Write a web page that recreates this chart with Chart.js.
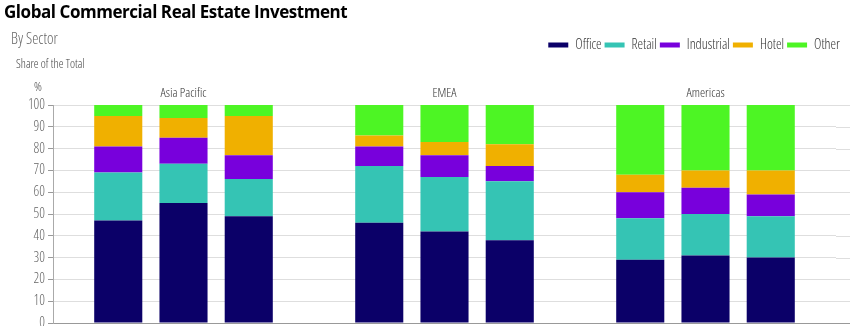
<!DOCTYPE html>
<html>
<head>
<meta charset="utf-8">
<script src="https://cdn.jsdelivr.net/npm/chart.js@4"></script>
<style>
  html, body { margin: 0; padding: 0; background: #fff; }
  #wrap { position: relative; width: 850px; height: 326px; overflow: hidden; }
  #myChart { position: absolute; left: 0; top: 0; }
  .lbl { position: absolute; white-space: nowrap; font-family: "Open Sans", sans-serif; font-stretch: 75%; font-weight: 300; }
  #title { left: 4px; top: 0px; font-stretch: 100%; font-weight: 700; font-size: 17px; color: #000; letter-spacing: -0.45px; }
  #sub { left: 11px; top: 27px; font-size: 15.5px; color: #666; }
  #unit { left: 16px; top: 55px; font-size: 12px; color: #444; }
  #pct { left: 34px; top: 77px; font-size: 13px; color: #444; }
</style>
</head>
<body>
<div id="wrap">
  <canvas id="myChart" width="850" height="326"></canvas>
  <div class="lbl" id="title">Global Commercial Real Estate Investment</div>
  <div class="lbl" id="sub">By Sector</div>
  <div class="lbl" id="unit">Share of the Total</div>
  <div class="lbl" id="pct">%</div>
</div>
<script>
"use strict";

// Slots on the x axis, blanks keep the gap between regions
const categories = ["", "AP1", "AP2", "AP3", "", "EMEA1", "EMEA2", "EMEA3", "", "AM1", "AM2", "AM3", ""];
const regions = ["Asia Pacific", "EMEA", "Americas"];
const regionCenters = [2, 6, 10];

// Share of the total per sector (%)
const office     = [null, 47, 55, 49, null, 46, 42, 38, null, 29, 31, 30, null];
const retail     = [null, 22, 18, 17, null, 26, 25, 27, null, 19, 19, 19, null];
const industrial = [null, 12, 12, 11, null,  9, 10,  7, null, 12, 12, 10, null];
const hotel      = [null, 14,  9, 18, null,  5,  6, 10, null,  8,  8, 11, null];
const other      = [null,  5,  6,  5, null, 14, 17, 18, null, 32, 30, 30, null];

const yTicks = [0, 10, 20, 30, 40, 50, 60, 70, 80, 90, 100];

// condensed light Open Sans for all the small labels
const thin = "'Open Sans', sans-serif";
const thinWeight = "300 condensed";
const gridColor = "#dedede";

// Push the plot area down below the legend row, legend sits near the right edge
const legendSpacer = {
  id: "legendSpacer",
  beforeInit(chart) {
    const origFit = chart.legend.fit;
    chart.legend.fit = function fit() {
      origFit.bind(chart.legend)();
      this.height = 70;
    };
  },
  beforeDraw(chart) {
    chart.legend.right = chart.width - 7;
  },
};

// Region names above each group + grid lines running to the right edge
const regionLabels = {
  id: "regionLabels",
  beforeDatasetsDraw(chart) {
    const { ctx, chartArea, scales } = chart;
    ctx.save();
    ctx.strokeStyle = gridColor;
    ctx.lineWidth = 1;
    yTicks.forEach((t) => {
      const y = Math.round(scales.y.getPixelForValue(t)) + 0.5;
      ctx.beginPath();
      ctx.moveTo(chartArea.right, y);
      ctx.lineTo(chart.width, y);
      ctx.stroke();
    });
    ctx.restore();
  },
  afterDraw(chart) {
    const { ctx, chartArea, scales } = chart;
    ctx.save();
    ctx.font = thinWeight + " 13px " + thin;
    ctx.fillStyle = "#333";
    ctx.textAlign = "center";
    ctx.textBaseline = "alphabetic";
    regions.forEach((name, i) => {
      ctx.fillText(name, scales.x.getPixelForValue(regionCenters[i]), chartArea.top - 8);
    });
    ctx.strokeStyle = "#999";
    const yb = Math.round(scales.y.getPixelForValue(0)) + 0.5;
    ctx.beginPath();
    ctx.moveTo(chartArea.right, yb);
    ctx.lineTo(chart.width, yb);
    ctx.stroke();
    ctx.restore();
  },
};

const ctx = document.getElementById("myChart").getContext("2d");
const myChart = new Chart(ctx, {
  type: "bar",
  data: {
    labels: categories,
    datasets: [
      { label: "Office", data: office, backgroundColor: "#0b0068" },
      { label: "Retail", data: retail, backgroundColor: "#35c4b4" },
      { label: "Industrial", data: industrial, backgroundColor: "#7800dc" },
      { label: "Hotel", data: hotel, backgroundColor: "#f0b000" },
      { label: "Other", data: other, backgroundColor: "#4df524" },
    ],
  },
  options: {
    responsive: false,
    animation: false,
    layout: { padding: { top: 35, right: 14, bottom: 3, left: 0 } },
    datasets: {
      bar: { categoryPercentage: 1, barPercentage: 0.737, borderWidth: 0 },
    },
    plugins: {
      tooltip: { enabled: false },
      legend: {
        position: "top",
        align: "end",
        labels: {
          boxWidth: 20,
          boxHeight: 5,
          padding: 3,
          color: "#333",
          font: { family: thin, weight: thinWeight, size: 14 },
        },
      },
    },
    scales: {
      x: {
        stacked: true,
        offset: false,
        afterFit(scale) {
          scale.height = 0;
        },
        grid: { display: false },
        border: { display: true, color: "#999" },
        ticks: { display: false },
      },
      y: {
        stacked: true,
        min: 0,
        max: 100,
        afterFit(scale) {
          scale.width = 53;
          scale.paddingTop = 0;
          scale.paddingBottom = 0;
        },
        afterBuildTicks(scale) {
          scale.ticks = yTicks.map((v) => ({ value: v }));
        },
        grid: { color: gridColor, tickLength: 5, tickColor: "#999" },
        border: { display: true, color: "#aaa" },
        ticks: { color: "#666", padding: 3, font: { family: thin, weight: thinWeight, size: 14 } },
      },
    },
  },
  plugins: [legendSpacer, regionLabels],
});
</script>
</body>
</html>
